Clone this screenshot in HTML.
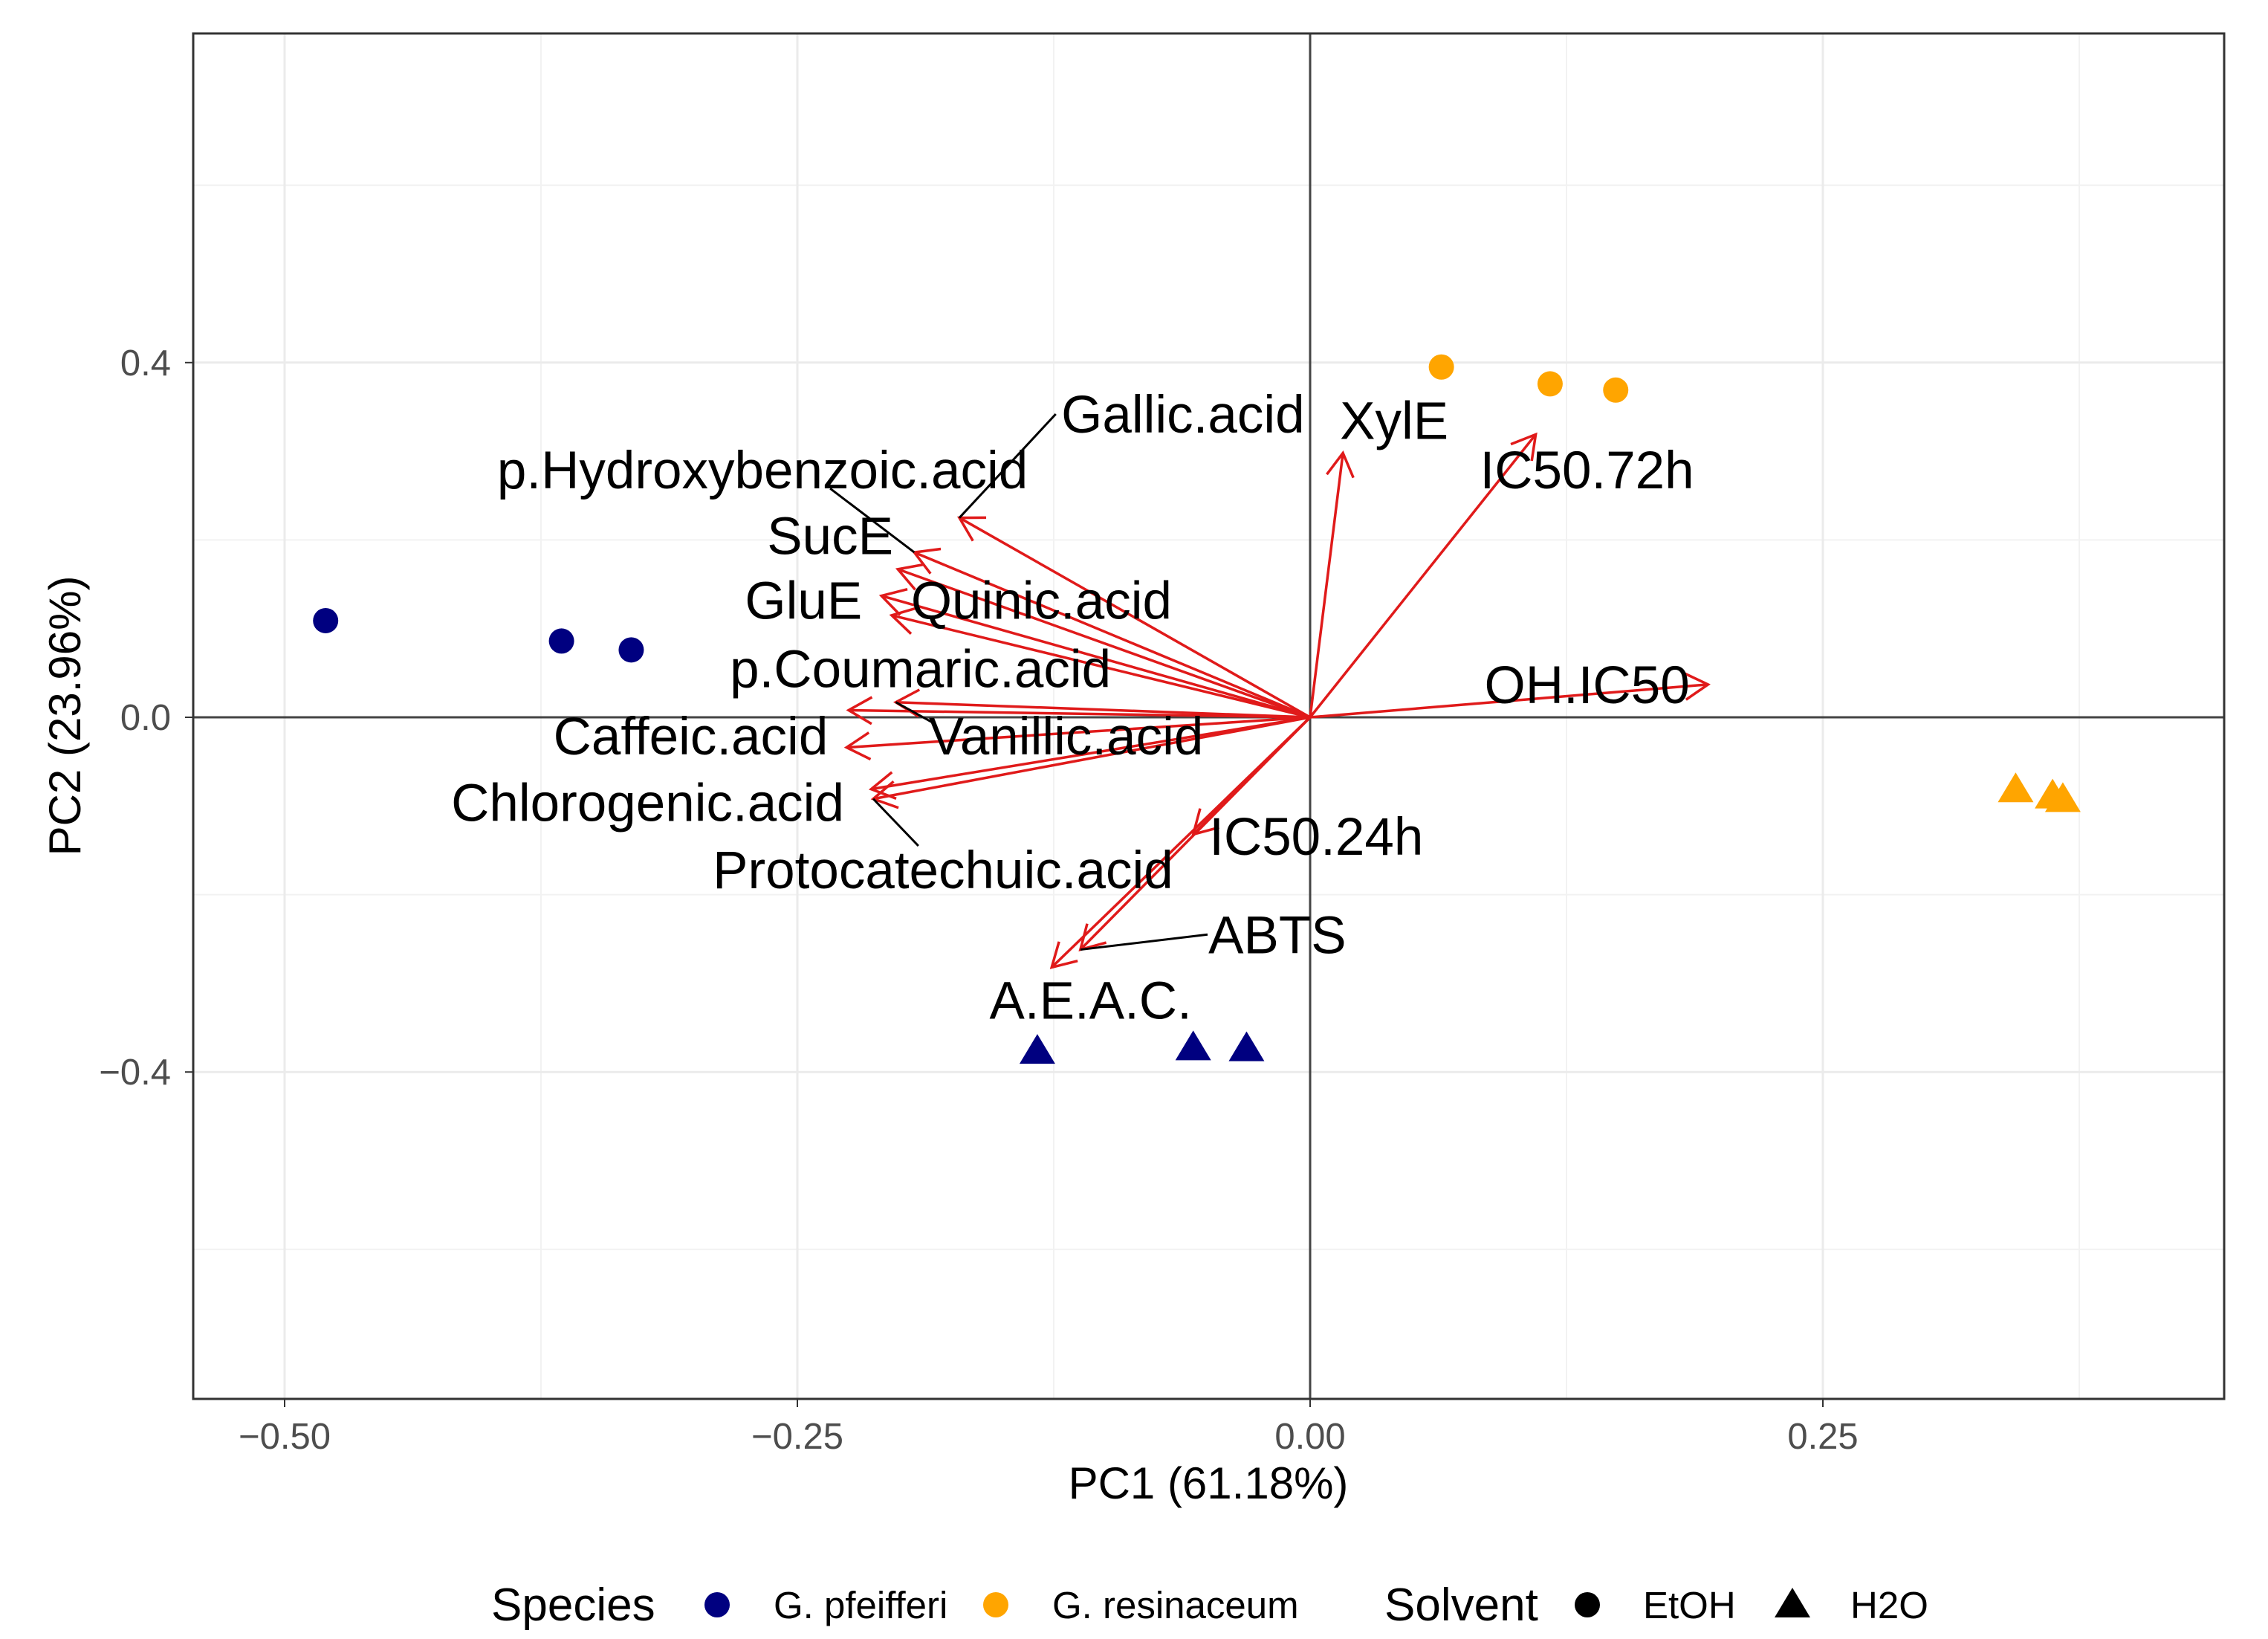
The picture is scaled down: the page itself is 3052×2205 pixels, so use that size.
<!DOCTYPE html>
<html><head><meta charset="utf-8"><style>
html,body{margin:0;padding:0;background:#fff;}
svg{display:block;font-family:"Liberation Sans",Arial,sans-serif;}
</style></head><body>
<svg id="chart" width="3052" height="2205" viewBox="0 0 3052 2205" xmlns="http://www.w3.org/2000/svg">
<g id="grid"></g>
<g id="axes"></g>
<g id="arrows"></g>
<g id="points"></g>
<g id="labels"></g>
<text x="1626" y="2016" font-size="60" text-anchor="middle" fill="#000">PC1 (61.18%)</text>
<text transform="translate(108,963) rotate(-90)" font-size="60" text-anchor="middle" fill="#000">PC2 (23.96%)</text>
<g font-size="51" fill="#000">
  <text x="661" y="2180" font-size="62">Species</text>
  <circle cx="965" cy="2159" r="17" fill="#000080"/>
  <text x="1041" y="2177">G. pfeifferi</text>
  <circle cx="1340" cy="2159" r="17" fill="#FFA500"/>
  <text x="1416" y="2177">G. resinaceum</text>
  <text x="1863" y="2180" font-size="62">Solvent</text>
  <circle cx="2136" cy="2159" r="17" fill="#000"/>
  <text x="2211" y="2177">EtOH</text>
  <polygon points="2412,2136 2436,2176 2388,2176" fill="#000"/>
  <text x="2490" y="2177">H2O</text>
</g>
</svg>
<script>
const xTicks = [-0.5, -0.25, 0, 0.25];
const xTickLabels = ["\u22120.50", "\u22120.25", "0.00", "0.25"];
const xMinor = [-0.375, -0.125, 0.125, 0.375];
const yTicks = [0.4, 0, -0.4];
const yTickLabels = ["0.4", "0.0", "\u22120.4"];
const yMinor = [0.6, 0.2, -0.2, -0.6];

const ptX = [-0.480, -0.365, -0.331, 0.064, 0.117, 0.149, -0.133, -0.057, -0.031, 0.344, 0.362, 0.367];
const ptY = [0.109, 0.086, 0.076, 0.395, 0.376, 0.369, -0.379, -0.375, -0.376, -0.084, -0.091, -0.095];
const ptSpecies = ["G. pfeifferi","G. pfeifferi","G. pfeifferi","G. resinaceum","G. resinaceum","G. resinaceum","G. pfeifferi","G. pfeifferi","G. pfeifferi","G. resinaceum","G. resinaceum","G. resinaceum"];
const ptSolvent = ["EtOH","EtOH","EtOH","EtOH","EtOH","EtOH","H2O","H2O","H2O","H2O","H2O","H2O"];

const varNames = ["Gallic.acid","XylE","IC50.72h","OH.IC50","IC50.24h","ABTS","A.E.A.C.","p.Hydroxybenzoic.acid","SucE","GluE","Quinic.acid","p.Coumaric.acid","Vanillic.acid","Caffeic.acid","Chlorogenic.acid","Protocatechuic.acid"];
const varX = [-0.171, 0.016, 0.110, 0.194, -0.057, -0.112, -0.126, -0.193, -0.201, -0.209, -0.204, -0.225, -0.202, -0.226, -0.214, -0.213];
const varY = [0.225, 0.298, 0.319, 0.037, -0.132, -0.262, -0.282, 0.186, 0.167, 0.137, 0.115, 0.008, 0.017, -0.034, -0.081, -0.092];
const labX = [-0.062, 0.041, 0.135, 0.135, 0.003, -0.016, -0.107, -0.267, -0.234, -0.247, -0.131, -0.190, -0.119, -0.302, -0.323, -0.179];
const labY = [0.342, 0.335, 0.279, 0.037, -0.134, -0.245, -0.319, 0.279, 0.205, 0.132, 0.132, 0.055, -0.021, -0.021, -0.096, -0.172];

const NS = "http://www.w3.org/2000/svg";
const L = 260, R = 2993, T = 45, B = 1882;
function sx(v){ return 1763 + v * 2760; }
function sy(v){ return 965 - v * 1193; }
function mk(tag, attrs, parent){
  const e = document.createElementNS(NS, tag);
  for (const k in attrs) e.setAttribute(k, attrs[k]);
  parent.appendChild(e);
  return e;
}
const grid = document.getElementById('grid');
const axes = document.getElementById('axes');
mk('rect', {x:L, y:T, width:R-L, height:B-T, fill:'#fff'}, grid);
xMinor.forEach(v => {
  const e = mk('line', {x1:sx(v), x2:sx(v), y1:T, y2:B, stroke:'#f2f2f2', 'stroke-width':2}, grid);
  
  
});
yMinor.forEach(v => {
  const e = mk('line', {x1:L, x2:R, y1:sy(v), y2:sy(v), stroke:'#f2f2f2', 'stroke-width':2}, grid);
  
  
});
xTicks.forEach((v, i) => {
  const e = mk('line', {x1:sx(v), x2:sx(v), y1:T, y2:B, stroke:'#ebebeb', 'stroke-width':3}, grid);
  
  
  mk('line', {x1:sx(v), x2:sx(v), y1:B, y2:B+11, stroke:'#333', 'stroke-width':2}, axes);
  const t = mk('text', {x:sx(v), y:1949, 'font-size':49, 'text-anchor':'middle', fill:'#4d4d4d'}, axes);
  t.textContent = xTickLabels[i];
  
  
});
yTicks.forEach((v, i) => {
  const e = mk('line', {x1:L, x2:R, y1:sy(v), y2:sy(v), stroke:'#ebebeb', 'stroke-width':3}, grid);
  
  
  mk('line', {x1:L-11, x2:L, y1:sy(v), y2:sy(v), stroke:'#333', 'stroke-width':2}, axes);
  const t = mk('text', {x:L-30, y:sy(v)+17, 'font-size':49, 'text-anchor':'end', fill:'#4d4d4d'}, axes);
  t.textContent = yTickLabels[i];
  
  
});
const h0 = mk('line', {x1:L, x2:R, y1:sy(0), y2:sy(0), stroke:'#444', 'stroke-width':3}, axes);


const v0 = mk('line', {x1:sx(0), x2:sx(0), y1:T, y2:B, stroke:'#444', 'stroke-width':3}, axes);


const border = mk('rect', {x:L, y:T, width:R-L, height:B-T, fill:'none', stroke:'#333', 'stroke-width':3}, axes);



const arrows = document.getElementById('arrows');
varX.forEach((v, i) => {
  const x0 = sx(0), y0 = sy(0), x1 = sx(v), y1 = sy(varY[i]);
  const ang = Math.atan2(y1 - y0, x1 - x0), hl = 36, ha = Math.PI / 6;
  const g = mk('g', {stroke:'#E01A1A', 'stroke-width':3.5, fill:'none'}, arrows);
  
  
  mk('line', {x1:x0, y1:y0, x2:x1, y2:y1}, g);
  const ax = x1 - hl * Math.cos(ang - ha), ay = y1 - hl * Math.sin(ang - ha);
  const bx = x1 - hl * Math.cos(ang + ha), by = y1 - hl * Math.sin(ang + ha);
  mk('polyline', {points: ax + ',' + ay + ' ' + x1 + ',' + y1 + ' ' + bx + ',' + by}, g);
});

const points = document.getElementById('points');
ptX.forEach((v, i) => {
  const cx = sx(v), cy = sy(ptY[i]);
  const col = ptSpecies[i] === "G. pfeifferi" ? '#000080' : '#FFA500';
  let e;
  if (ptSolvent[i] === "EtOH") {
    e = mk('circle', {cx:cx, cy:cy, r:17, fill:col}, points);
  } else {
    e = mk('polygon', {points: cx + ',' + (cy - 26) + ' ' + (cx + 24) + ',' + (cy + 14) + ' ' + (cx - 24) + ',' + (cy + 14), fill:col}, points);
  }
  
  
});

const labels = document.getElementById('labels');
const leaders = [[0, -0.124, 0.342], [7, -0.234, 0.258], [12, -0.184, -0.006], [15, -0.191, -0.145], [5, -0.050, -0.245]];
leaders.forEach(l => {
  const i = l[0];
  const e = mk('line', {x1:sx(l[1]), y1:sy(l[2]), x2:sx(varX[i]), y2:sy(varY[i]), stroke:'#000', 'stroke-width':3}, labels);
  
  
});
varNames.forEach((n, i) => {
  const t = mk('text', {x:sx(labX[i]), y:sy(labY[i]) + 25, 'font-size':71, 'text-anchor':'middle', fill:'#000'}, labels);
  t.textContent = n;
  
  
});
</script>
</body></html>
